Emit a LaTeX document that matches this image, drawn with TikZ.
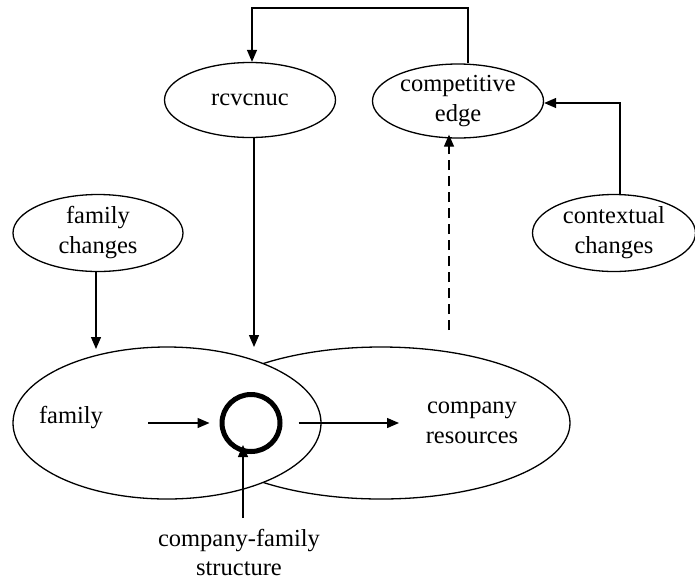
\documentclass[tikz,border=0pt]{standalone}
\usepackage{fontspec}
\setmainfont{Liberation Serif}
\usetikzlibrary{shapes.geometric,arrows.meta}
\begin{document}
\begin{tikzpicture}[x=1pt,y=-1pt,line width=1.3pt,
  ell/.style={draw,ellipse,inner sep=0pt,align=center,font=\fontsize{24.5}{30}\selectfont},
  big/.style={draw,ellipse,inner sep=0pt},
  lbl/.style={inner sep=0pt,align=center,font=\fontsize{24.5}{30}\selectfont},
  arr/.style={-{Triangle[length=12pt,width=10pt]}},
  dsh/.style={dash pattern=on 10pt off 6pt}]
\useasboundingbox (0,0) rectangle (695,582);
% ellipses
\node[ell,minimum width=171,minimum height=75] (rev) at (250,100) {rcvcnuc};
\node[ell,minimum width=171,minimum height=74] (comp) at (458,101) {competitive\\edge};
\node[ell,minimum width=170,minimum height=77] (fc) at (98,233) {family\\changes};
\node[ell,minimum width=163,minimum height=77] (ctx) at (614,233) {contextual\\changes};
\node[big,minimum width=378,minimum height=152] (res) at (381,423) {};
\node[big,fill=white,minimum width=308,minimum height=152] (fam) at (167,423) {};
\node[draw,ellipse,line width=5pt,minimum width=58,minimum height=57,inner sep=0pt] (circ) at (251,423) {};
% labels
\node[lbl] (famlbl) at (71,418) {family};
\node[lbl] (reslbl) at (472,423) {company\\resources};
\node[lbl,font=\fontsize{24.5}{29}\selectfont] (struct) at (239,552) {company-family\\structure};
% connectors
\coordinate (top) at (252,8);
\coordinate (t0) at (468,8);
\draw[arr] (t0 |- comp.north) -- (t0) -- (top) -- (top |- rev.north);
\coordinate (c0) at (620,103);
\draw[arr] (c0 |- ctx.north) -- (c0) -- (c0 -| comp.east);
\coordinate (r0) at (254,347);
\draw[arr] (r0 |- rev.south) -- (r0);
\coordinate (f0) at (96,349);
\draw[arr] (f0 |- fc.south) -- (f0);
\coordinate (d0) at (449,330);
\draw[arr,dsh] (d0) -- ([yshift=4]d0 |- comp.south);
\coordinate (a0) at (148,423);
\coordinate (a1) at (399,423);
\draw[arr] (a0) -- ([xshift=-10]circ.west);
\draw[arr] ([xshift=16]circ.east) -- (a1);
\coordinate (s0) at (243,518);
\draw[arr] (s0) -- ([yshift=9]s0 |- circ.south);
\end{tikzpicture}
\end{document}
